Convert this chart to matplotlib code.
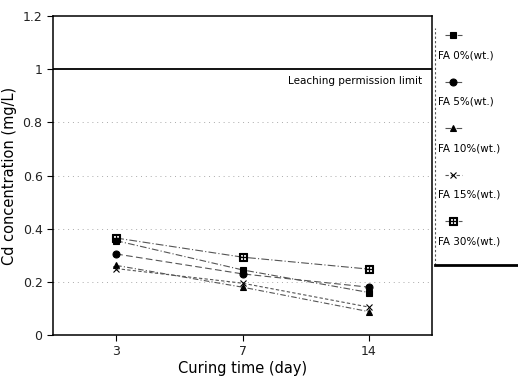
import numpy as np
import matplotlib.pyplot as plt

days = ['3', '7', '14']
fa0 = [0.355, 0.245, 0.16]
fa5 = [0.305, 0.23, 0.18]
fa10 = [0.262, 0.18, 0.088]
fa15 = [0.25, 0.195, 0.105]
fa30 = [0.365, 0.293, 0.248]
labels = ['FA 0%(wt.)', 'FA 5%(wt.)', 'FA 10%(wt.)', 'FA 15%(wt.)', 'FA 30%(wt.)']
limit = 1.0

series = [fa0, fa5, fa10, fa15, fa30]
markers = ['s', 'o', '^', 'x', '$\\boxplus$']
sizes = [5, 5, 5, 4.5, 5.5]
styles = [(0, (6, 2, 1, 2)), (0, (6, 3)), (0, (5, 2, 1, 2)), (0, (3, 2)), (0, (7, 2, 1, 2))]

fig = plt.figure(figsize=(5.18, 3.76), dpi=100)
ax = fig.add_axes([0.1023, 0.109, 0.732, 0.848])

x = np.arange(len(days))
for ys, m, ms, ls in zip(series, markers, sizes, styles):
  ax.plot(x, ys, color='#555555', lw=0.8, ls=ls, marker=m, ms=ms,
          mfc='black' if m in 'so^' else 'none', mec='black', mew=0.8)

for yv in [0.2, 0.4, 0.6, 0.8]:
  ax.axhline(yv, color='#aaaaaa', lw=0.7, ls=(0, (1, 4)), zorder=0)
ax.axhline(limit, color='black', lw=1.3)
ax.text(2.42, 0.975, 'Leaching permission limit', ha='right', va='top', fontsize=7.5)

ax.set_xlim(-0.5, 2.5)
ax.set_ylim(0, 1.2)
ax.set_xticks(x)
ax.set_xticklabels(days)
ax.set_yticks([0, 0.2, 0.4, 0.6, 0.8, 1.0, 1.2])
ax.set_yticklabels(['0', '0.2', '0.4', '0.6', '0.8', '1', '1.2'])
ax.tick_params(labelsize=9, length=4, width=0.8, labelcolor='#222222')
for s in ax.spines.values():
  s.set_linewidth(1.1)
ax.set_xlabel('Curing time (day)', fontsize=10.5, labelpad=2)
ax.set_ylabel('Cd concentration (mg/L)', fontsize=10.5, labelpad=4)

# legend drawn by hand: marker above each label
lax = fig.add_axes([0.84, 0.295, 0.16, 0.63])
lax.set_xlim(0, 1)
lax.set_ylim(0, 1)
lax.axis('off')
lax.plot([0, 0], [0, 1], color='#555555', lw=0.8, ls=(0, (2, 2)), clip_on=False)
lax.plot([0, 1], [0, 0], color='black', lw=2.0, clip_on=False)
for i, (lab, m, ms, ls) in enumerate(zip(labels, markers, sizes, styles)):
  ym = 0.97 - i * 0.196
  lax.plot([0.12, 0.32], [ym, ym], color='#555555', lw=0.8, ls=ls)
  lax.plot([0.22], [ym], marker=m, ms=ms, color='black',
           mfc='black' if m in 'so^' else 'none', mec='black', mew=0.8)
  lax.text(0.03, ym - 0.085, lab, fontsize=7.5, va='center', ha='left')

fig.savefig('out.png', dpi=100)
